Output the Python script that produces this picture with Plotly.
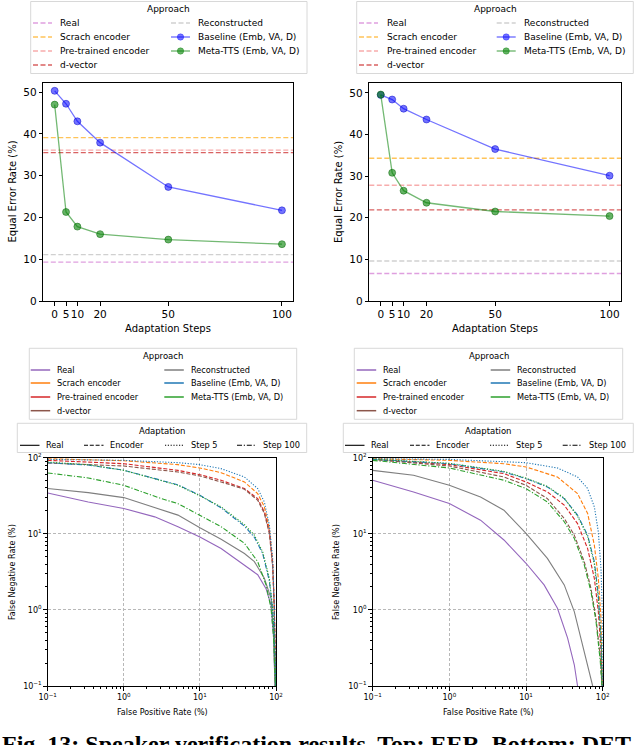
import plotly.graph_objects as go

W, H = 640, 745

# ---- EER (top row) ----
steps = [0, 5, 10, 20, 50, 100]
left_baseline_eer = [50.3, 47.2, 43.0, 37.9, 27.3, 21.7]
left_meta_eer = [47.0, 21.3, 17.8, 16.0, 14.7, 13.6]
right_baseline_eer = [49.5, 48.4, 46.2, 43.6, 36.5, 30.1]
right_meta_eer = [49.6, 30.8, 26.5, 23.6, 21.5, 20.4]

ref_names = ["Real", "Reconstructed", "Scrach encoder", "Pre-trained encoder", "d-vector"]
left_ref_eer = [9.3, 11.1, 39.1, 36.1, 35.5]
right_ref_eer = [6.6, 9.6, 34.3, 27.8, 21.9]

# ---- DET (bottom row), FPR / FNR in % ----
dl_real_fpr = [0.1, 0.341, 1.0, 2.55, 5.15, 10, 19, 38.5, 57.5, 74, 86, 93, 97]
dl_real_fnr = [34.4, 26.2, 21.5, 16.7, 12.4, 9.1, 6.4, 3.9, 2.9, 1.9, 1.16, 0.43, 0.1]
dl_recon_fpr = [0.1, 0.341, 1.0, 1.88, 5.15, 10, 19, 38.5, 52, 70.3, 86, 93, 97]
dl_recon_fnr = [39.3, 34.8, 29.9, 24.2, 17.6, 12.0, 8.5, 5.5, 4.3, 2.6, 1.42, 0.52, 0.1]
dl_scratch_fpr = [0.1, 1.0, 5.15, 10, 19, 38.5, 57.5, 70.3, 81.8, 90.4, 95, 99]
dl_scratch_fnr = [97, 91.2, 81, 73.3, 63.6, 48, 33.7, 22.6, 11.7, 4.3, 1.16, 0.1]
dl_pre_fpr = [0.1, 1.0, 5.15, 10, 19, 38.5, 57.5, 70.3, 81.8, 90.4, 95, 99]
dl_pre_fnr = [92.3, 83.4, 68.2, 59.8, 50.5, 39.3, 29, 19.4, 10.6, 3.9, 1.05, 0.1]
dl_dvec_fpr = [0.1, 1.0, 5.15, 10, 19, 38.5, 57.5, 70.3, 81.8, 90.4, 95, 99]
dl_dvec_fnr = [85, 77.8, 64.9, 57.5, 48, 38.5, 27.6, 18.5, 10.1, 3.7, 1.05, 0.1]
dl_base5_fpr = [0.1, 1.0, 5.15, 10, 19, 38.5, 57.5, 70.3, 81.8, 90.4, 95, 99]
dl_base5_fnr = [95, 92.3, 86, 81, 71.8, 55.8, 39.3, 26.2, 13, 4.75, 1.16, 0.1]
dl_base100_fpr = [0.1, 0.341, 1.0, 3.11, 5.15, 10, 19, 38.5, 52, 66.8, 81.8, 90.4, 95, 99]
dl_base100_fnr = [86, 80, 68.5, 51, 44, 32, 22, 12.6, 9.0, 5.5, 2.4, 1.0, 0.4, 0.1]
dl_meta5_fpr = [0.1, 0.341, 1.0, 3.11, 5.15, 10, 19, 38.5, 52, 66.8, 81.8, 90.4, 95, 99]
dl_meta5_fnr = [87.7, 80.9, 68.2, 50.5, 43.4, 31.5, 22.6, 13.2, 9.6, 5.8, 2.6, 1.05, 0.43, 0.1]
dl_meta100_fpr = [0.1, 0.341, 1.0, 3.11, 5.15, 10, 19, 38.5, 57.5, 74, 86, 93, 98]
dl_meta100_fnr = [63, 54.2, 43.4, 29.0, 24.9, 17.6, 12.4, 7.5, 4.3, 2.13, 1.05, 0.43, 0.1]

dr_real_fpr = [0.1, 0.341, 1.0, 2.55, 5.15, 10, 17.2, 25.7, 34.8, 42.6, 47]
dr_real_fnr = [50.5, 35.5, 25, 15.1, 8.3, 4.1, 2.13, 1.05, 0.43, 0.19, 0.1]
dr_recon_fpr = [0.1, 0.341, 1.0, 2.55, 5.15, 10, 19, 31.5, 42.6, 54.7, 63.6, 74]
dr_recon_fnr = [68.2, 58.7, 43.4, 30.5, 20.4, 10.1, 4.75, 2.13, 0.95, 0.35, 0.19, 0.1]
dr_scratch_fpr = [0.1, 1.0, 5.15, 10, 25.7, 47, 63.6, 77.8, 87.7, 95, 99]
dr_scratch_fnr = [97, 92.3, 83.4, 75.5, 55.8, 33.7, 18.5, 7.1, 2.6, 0.78, 0.1]
dr_pre_fpr = [0.1, 1.0, 5.15, 10, 19, 31.5, 47, 63.6, 77.8, 87.7, 95, 99]
dr_pre_fnr = [95, 81, 61.7, 48, 35.5, 23.8, 13.6, 6.4, 2.6, 0.95, 0.29, 0.1]
dr_dvec_fpr = [0.1, 1.0, 5.15, 10, 19, 31.5, 42.6, 57.5, 70.3, 81.8, 93, 98]
dr_dvec_fnr = [95, 77.8, 55.8, 43.4, 29, 15.9, 9.6, 4.3, 1.92, 0.78, 0.24, 0.1]
dr_base5_fpr = [0.1, 1.0, 10, 25.7, 47, 63.6, 77.8, 87.7, 95, 99, 99.6]
dr_base5_fnr = [97, 95, 86, 73.3, 55.8, 39.3, 22.6, 10.6, 3.5, 0.95, 0.1]
dr_base100_fpr = [0.1, 1.0, 5.15, 10, 19, 31.5, 47, 63.6, 77.8, 87.7, 95, 99]
dr_base100_fnr = [95, 83.4, 64.9, 53, 41.3, 29, 17.6, 9.6, 4.3, 1.57, 0.43, 0.1]
dr_meta5_fpr = [0.1, 1.0, 5.15, 10, 19, 31.5, 47, 63.6, 77.8, 87.7, 95, 99]
dr_meta5_fnr = [96, 84.5, 66, 54, 42, 29.5, 17, 9.2, 4.0, 1.4, 0.4, 0.1]
dr_meta100_fpr = [0.1, 1.0, 5.15, 10, 19, 31.5, 42.6, 57.5, 70.3, 81.8, 93, 98]
dr_meta100_fnr = [92.3, 73.3, 50.5, 39.3, 26.2, 14.4, 8.7, 3.9, 1.74, 0.71, 0.21, 0.1]

det_ticks = [0.1, 1, 10, 100]
det_ticktext = ["10<sup>−1</sup>", "10<sup>0</sup>", "10<sup>1</sup>", "10<sup>2</sup>"]

FONT = "DejaVu Sans"

# colours
ref_colors = ["rgba(191,64,191,0.5)", "rgba(150,150,150,0.45)", "rgba(255,165,0,0.65)",
              "rgba(240,90,90,0.5)", "rgba(200,30,30,0.7)"]
base_line = "rgba(0,0,255,0.55)"
meta_line = "rgba(0,128,0,0.55)"
tab = {"real": "#9467bd", "recon": "#7f7f7f", "scratch": "#ff7f0e", "pre": "#d62728",
       "dvec": "#8c564b", "base": "#1f77b4", "meta": "#2ca02c"}
DASH = "4px,1.8px"
DOT = "1.2px,1.6px"
DASHDOT = "5px,1.8px,1.2px,1.8px"


def px(x):
    return x / W


def py(y):
    return 1 - y / H


fig = go.Figure()

# ---- top EER plots ----
for xa, ya, base, meta, refs in [("x", "y", left_baseline_eer, left_meta_eer, left_ref_eer),
                                 ("x2", "y2", right_baseline_eer, right_meta_eer, right_ref_eer)]:
    for val, col in zip(refs, ref_colors):
        fig.add_shape(type="line", xref=xa + " domain", yref=ya, x0=0, x1=1, y0=val, y1=val,
                      line=dict(color=col, width=1.4, dash="5px,2.5px"), layer="below")
    fig.add_trace(go.Scatter(x=steps, y=base, mode="lines+markers", xaxis=xa, yaxis=ya,
                             line=dict(color=base_line, width=1.3),
                             marker=dict(color="rgba(0,0,255,0.55)", size=7,
                                         line=dict(color="rgba(0,0,200,0.6)", width=0.8)),
                             showlegend=False))
    fig.add_trace(go.Scatter(x=steps, y=meta, mode="lines+markers", xaxis=xa, yaxis=ya,
                             line=dict(color=meta_line, width=1.3),
                             marker=dict(color="rgba(0,128,0,0.6)", size=7,
                                         line=dict(color="rgba(0,100,0,0.6)", width=0.8)),
                             showlegend=False))

# ---- bottom DET plots ----
left_curves = [
    (dl_real_fpr, dl_real_fnr, tab["real"], "solid"),
    (dl_recon_fpr, dl_recon_fnr, tab["recon"], "solid"),
    (dl_scratch_fpr, dl_scratch_fnr, tab["scratch"], DASH),
    (dl_pre_fpr, dl_pre_fnr, tab["pre"], DASH),
    (dl_dvec_fpr, dl_dvec_fnr, tab["dvec"], DASH),
    (dl_base5_fpr, dl_base5_fnr, tab["base"], DOT),
    (dl_base100_fpr, dl_base100_fnr, tab["base"], DASHDOT),
    (dl_meta5_fpr, dl_meta5_fnr, tab["meta"], DOT),
    (dl_meta100_fpr, dl_meta100_fnr, tab["meta"], DASHDOT),
]
right_curves = [
    (dr_real_fpr, dr_real_fnr, tab["real"], "solid"),
    (dr_recon_fpr, dr_recon_fnr, tab["recon"], "solid"),
    (dr_scratch_fpr, dr_scratch_fnr, tab["scratch"], DASH),
    (dr_pre_fpr, dr_pre_fnr, tab["pre"], DASH),
    (dr_dvec_fpr, dr_dvec_fnr, tab["dvec"], DASH),
    (dr_base5_fpr, dr_base5_fnr, tab["base"], DOT),
    (dr_base100_fpr, dr_base100_fnr, tab["base"], DASHDOT),
    (dr_meta5_fpr, dr_meta5_fnr, tab["meta"], DOT),
    (dr_meta100_fpr, dr_meta100_fnr, tab["meta"], DASHDOT),
]
for xa, ya, curves in [("x3", "y3", left_curves), ("x4", "y4", right_curves)]:
    for fx, fy, col, dash in curves:
        fig.add_trace(go.Scatter(x=fx, y=fy, mode="lines", xaxis=xa, yaxis=ya,
                                 line=dict(color=col, width=1.1, dash=dash), showlegend=False))

# ---- axes ----
box = dict(showline=True, mirror=True, linecolor="black", linewidth=1, ticks="outside",
           ticklen=3.5, tickwidth=0.8, tickcolor="black", zeroline=False, automargin=False,
           tickangle=0)
top_x = dict(box, range=[-5, 105], tickvals=steps, showgrid=False,
             tickfont=dict(family=FONT, size=10.5, color="black"))
top_y = dict(box, tickvals=[0, 10, 20, 30, 40, 50], showgrid=False,
             tickfont=dict(family=FONT, size=10.5, color="black"))
det_ax = dict(box, type="log", range=[-1, 2], tickvals=det_ticks, ticktext=det_ticktext,
              showgrid=True, gridcolor="#b8b8b8", gridwidth=0.8, griddash="3px,2px",
              tickfont=dict(family=FONT, size=8, color="black"),
              minor=dict(ticks="outside", ticklen=2, tickcolor="black", dtick="D1", showgrid=False))

fig.update_layout(
    width=W, height=H, autosize=False,
    margin=dict(l=0, r=0, t=0, b=0),
    paper_bgcolor="white", plot_bgcolor="white",
    showlegend=False,
    xaxis=dict(top_x, domain=[px(43.3), px(293.3)], anchor="y"),
    yaxis=dict(top_y, domain=[py(301), py(83.3)], range=[0, 52.1], anchor="x"),
    xaxis2=dict(top_x, domain=[px(369.3), px(621)], anchor="y2"),
    yaxis2=dict(top_y, domain=[py(301), py(83.3)], range=[0, 52.3], anchor="x2"),
    xaxis3=dict(det_ax, domain=[px(47.7), px(276)], anchor="y3"),
    yaxis3=dict(det_ax, domain=[py(686), py(457.7)], anchor="x3"),
    xaxis4=dict(det_ax, domain=[px(372.7), px(602.7)], anchor="y4"),
    yaxis4=dict(det_ax, domain=[py(686), py(457.7)], anchor="x4"),
)


# ---- helpers for text and hand-drawn legends ----
def text(x, y, s, size, anchor="left", angle=0, family=FONT, color="black"):
    fig.add_annotation(x=px(x), y=py(y), xref="paper", yref="paper", text=s, showarrow=False,
                       xanchor=anchor, yanchor="middle", textangle=angle,
                       font=dict(family=family, size=size, color=color))


def frame(x0, y0, x1, y1):
    fig.add_shape(type="rect", xref="paper", yref="paper", x0=px(x0), x1=px(x1), y0=py(y1), y1=py(y0),
                  line=dict(color="#d4d4d4", width=0.9), fillcolor="rgba(255,255,255,0.85)")


def sample(x0, x1, y, color, dash, width=1.4, dot_color=None):
    fig.add_shape(type="line", xref="paper", yref="paper", x0=px(x0), x1=px(x1), y0=py(y), y1=py(y),
                  line=dict(color=color, width=width, dash=dash))
    if dot_color:
        xm = (x0 + x1) / 2
        fig.add_shape(type="circle", xref="paper", yref="paper", xsizemode="pixel", ysizemode="pixel",
                      xanchor=px(xm), yanchor=py(y), x0=-3.2, x1=3.2, y0=-3.2, y1=3.2,
                      line=dict(color=dot_color, width=0.6), fillcolor=dot_color)


# axis titles
text(11.5, 192, "Equal Error Rate (%)", 10, "center", -90)
text(338, 192, "Equal Error Rate (%)", 10, "center", -90)
text(168, 328.5, "Adaptation Steps", 10, "center")
text(495, 328.5, "Adaptation Steps", 10, "center")
text(12, 572, "False Negative Rate (%)", 8, "center", -90)
text(336, 572, "False Negative Rate (%)", 8, "center", -90)
text(162, 712.5, "False Positive Rate (%)", 8, "center")
text(488, 712.5, "False Positive Rate (%)", 8, "center")

# top legends
top_legends = [(30.7, 307, 33, 171, 60, 198), (356.7, 633.3, 359, 496.7, 386.7, 524)]
rows = [23, 37, 51, 65]
for bx0, bx1, c1, c2, t1, t2 in top_legends:
    frame(bx0, 1.5, bx1, 73.5)
    text((bx0 + bx1) / 2, 9.5, "Approach", 9, "center")
    col1 = [("Real", ref_colors[0]), ("Scrach encoder", ref_colors[2]),
            ("Pre-trained encoder", ref_colors[3]), ("d-vector", ref_colors[4])]
    for (lab, col), ry in zip(col1, rows):
        sample(c1, c1 + 19, ry, col, "5px,2.5px")
        text(t1 - 2, ry, lab, 9)
    sample(c2, c2 + 19, rows[0], ref_colors[1], "5px,2.5px")
    text(t2 - 2, rows[0], "Reconstructed", 9)
    sample(c2, c2 + 19, rows[1], base_line, "solid", dot_color="rgba(0,0,255,0.55)")
    text(t2 - 2, rows[1], "Baseline (Emb, VA, D)", 9)
    sample(c2, c2 + 19, rows[2], meta_line, "solid", dot_color="rgba(0,128,0,0.6)")
    text(t2 - 2, rows[2], "Meta-TTS (Emb, VA, D)", 9)

# bottom legends
brows = [370, 383, 397, 410.7]
bottom_legends = [
    (29.3, 296.7, 30.7, 164.3, 57.3, 191, 17.3, 306.7, [20, 84, 165, 237]),
    (354.3, 622.7, 356.7, 490.7, 383.3, 516.7, 343.3, 633.3, [345, 410, 490, 562.7]),
]
for bx0, bx1, c1, c2, t1, t2, ax0, ax1, acols in bottom_legends:
    frame(bx0, 348.3, bx1, 419.3)
    text((bx0 + bx1) / 2, 355.7, "Approach", 8.5, "center")
    col1 = [("Real", tab["real"]), ("Scrach encoder", tab["scratch"]),
            ("Pre-trained encoder", tab["pre"]), ("d-vector", tab["dvec"])]
    col2 = [("Reconstructed", tab["recon"]), ("Baseline (Emb, VA, D)", tab["base"]),
            ("Meta-TTS (Emb, VA, D)", tab["meta"])]
    for (lab, col), ry in zip(col1, brows):
        sample(c1, c1 + 19.5, ry, col, "solid", 1.5)
        text(t1 - 2, ry, lab, 8.2)
    for (lab, col), ry in zip(col2, brows):
        sample(c2, c2 + 19.5, ry, col, "solid", 1.5)
        text(t2 - 2, ry, lab, 8.2)
    frame(ax0, 423.3, ax1, 452.5)
    text((ax0 + ax1) / 2, 431, "Adaptation", 8.5, "center")
    for (lab, dash), cx in zip([("Real", "solid"), ("Encoder", DASH), ("Step 5", DOT),
                                ("Step 100", DASHDOT)], acols):
        sample(cx, cx + 19.5, 445.3, "black", dash, 1.1)
        text(cx + 24, 445.3, lab, 8.2)

# caption (cut off at the bottom of the image)
fig.add_annotation(x=px(0), y=py(729), xref="paper", yref="paper", xanchor="left", yanchor="top",
                   text="<b>Fig. 13: Speaker verification results. Top: EER. Bottom: DET</b>",
                   showarrow=False, font=dict(family="Liberation Serif", size=24, color="black"))

fig.write_html("out.html", config={"displayModeBar": False},
               post_script="document.body.style.margin='0';document.body.style.overflow='hidden';")
